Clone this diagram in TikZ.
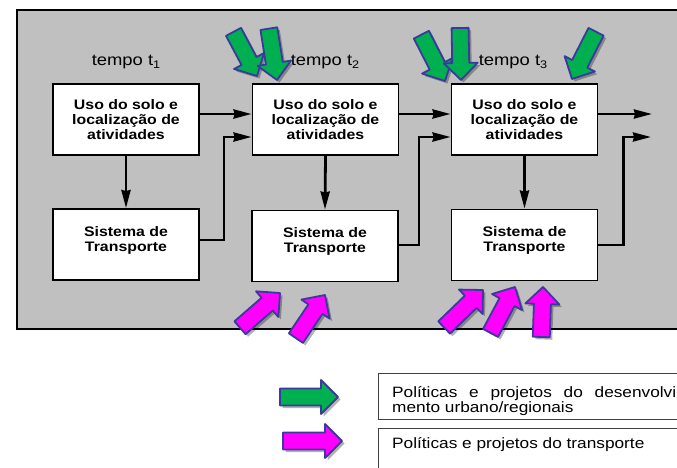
\documentclass[tikz,border=0pt]{standalone}
\usepackage{fontspec}
\setmainfont{Liberation Sans}
\newfontfamily\largo[FakeStretch=1.15]{Liberation Sans}
\usetikzlibrary{arrows.meta}
\definecolor{cinza}{RGB}{192,192,192}
\definecolor{verde}{RGB}{0,176,80}
\definecolor{rosa}{RGB}{255,0,255}
\definecolor{contorno}{RGB}{58,58,158}
\newcommand{\tsub}[1]{t\raisebox{-2.5pt}{\fontsize{11}{11}\selectfont #1}}
\tikzset{
painel/.style={fill=cinza, draw=black, line width=1.4pt},
bloco/.style={draw=black, fill=white, line width=1.8pt,
    minimum width=146pt, minimum height=71pt, inner sep=0pt, align=center,
    font=\largo\bfseries\fontsize{13.8}{15}\selectfont},
liga/.style={line width=2.8pt, -{Stealth[length=18pt, width=9pt, inset=1pt]}},
tempo/.style={font=\largo\fontsize{16}{16}\selectfont, inner sep=0pt, anchor=base},
moldura/.style={draw=black!75, line width=.9pt},
legtexto/.style={font=\largo\fontsize{15}{15}\selectfont, inner sep=0pt, anchor=base west},
verdes/.style={fill=verde, draw=contorno},
rosas/.style={fill=rosa, draw=contorno},
blockarrow/.pic={
    \fill[black, opacity=.3, transform canvas={xshift=2.5pt, yshift=-2.5pt}]
        (0,0) -- (-17,17) -- (-17,8.5) -- (-#1,8.5) -- (-#1,-8.5) -- (-17,-8.5) -- (-17,-17) -- cycle;
    \filldraw[pic actions, line width=1.8pt, line join=round]
        (0,0) -- (-17,17) -- (-17,8.5) -- (-#1,8.5) -- (-#1,-8.5) -- (-17,-8.5) -- (-17,-17) -- cycle;
},
}

\begin{document}
\begin{tikzpicture}[x=1pt, y=-1pt]
    \clip (0,0) rectangle (677,468);
    \draw[painel] (17,10) rectangle (700,329);

    % tempos
    \node[tempo] (t1) at (126,66) {tempo \tsub{1}};
    \node[tempo] (t2) at (325,66) {tempo \tsub{2}};
    \node[tempo] (t3) at (513,66) {tempo \tsub{3}};

    % blocos
    \node[bloco] (u1) at (126,119.5) {Uso do solo e\\localização de\\atividades};
    \node[bloco] (u2) at (325.5,119.5) {Uso do solo e\\localização de\\atividades};
    \node[bloco] (u3) at (524.5,119.5) {Uso do solo e\\localização de\\atividades};
    \node[bloco] (s1) at (126,244.5) {Sistema de\\Transporte\\[-3pt]\mbox{}};
    \node[bloco] (s2) at (325,246) {Sistema de\\Transporte\\[-3pt]\mbox{}};
    \node[bloco] (s3) at (524.5,245) {Sistema de\\Transporte\\[-3pt]\mbox{}};
    \coordinate (saida1) at (652,114);
    \coordinate (saida2) at (651,137);

    \draw[liga] ([yshift=5.5pt]u1.east) -- ([yshift=5.5pt]u2.west);
    \draw[liga] ([yshift=5.5pt]u2.east) -- ([yshift=5.5pt]u3.west);
    \draw[liga] ([yshift=5.5pt]u3.east) -- (saida1);
    \draw[liga] (u1.south) -- (s1.north);
    \draw[liga] (u2.south) -- (s2.north);
    \draw[liga] (u3.south) -- (s3.north);
    \draw[liga] ([yshift=4.5pt]s1.east) -- ++(24,0) |- ([yshift=-17.5pt]u2.west);
    \draw[liga] ([yshift=1pt]s2.east) -- ++(20,0) |- ([yshift=-17.5pt]u3.west);
    \draw[liga] (s3.east) -- ++(25,0) |- (saida2);

    % politicas de desenvolvimento urbano
    \pic[verdes, rotate=-62] (a1) at (257,76) {blockarrow=50};
    \pic[verdes, rotate=-81] (a2) at (277,80) {blockarrow=52};
    \pic[verdes, rotate=-63] (b1) at (445,81) {blockarrow=52};
    \pic[verdes, rotate=-89] (b2) at (461,80) {blockarrow=52};
    \pic[verdes, rotate=-117] (b3) at (572,79) {blockarrow=53};

    % politicas de transporte
    \pic[rosas, rotate=41] (c1) at (280,293) {blockarrow=53};
    \pic[rosas, rotate=56] (c2) at (325,295) {blockarrow=52};
    \pic[rosas, rotate=44] (c3) at (483,290) {blockarrow=54};
    \pic[rosas, rotate=62] (c4) at (515,287) {blockarrow=52};
    \pic[rosas, rotate=88] (c5) at (543,287) {blockarrow=50};

    % legenda
    \pic[verdes] (l1) at (338,397) {blockarrow=58};
    \pic[rosas] (l2) at (342,441) {blockarrow=59};
    \draw[moldura] (378,373) rectangle (700,419);
    \draw[moldura] (378,428) rectangle (700,480);
    \node[legtexto] (leg1) at (392,397) {\makebox[284pt][s]{Políticas e projetos do desenvolvi}};
    \node[legtexto] (leg2) at (392,412) {mento urbano/regionais};
    \node[legtexto] (leg3) at (392,448) {Políticas e projetos do transporte};
\end{tikzpicture}
\end{document}
